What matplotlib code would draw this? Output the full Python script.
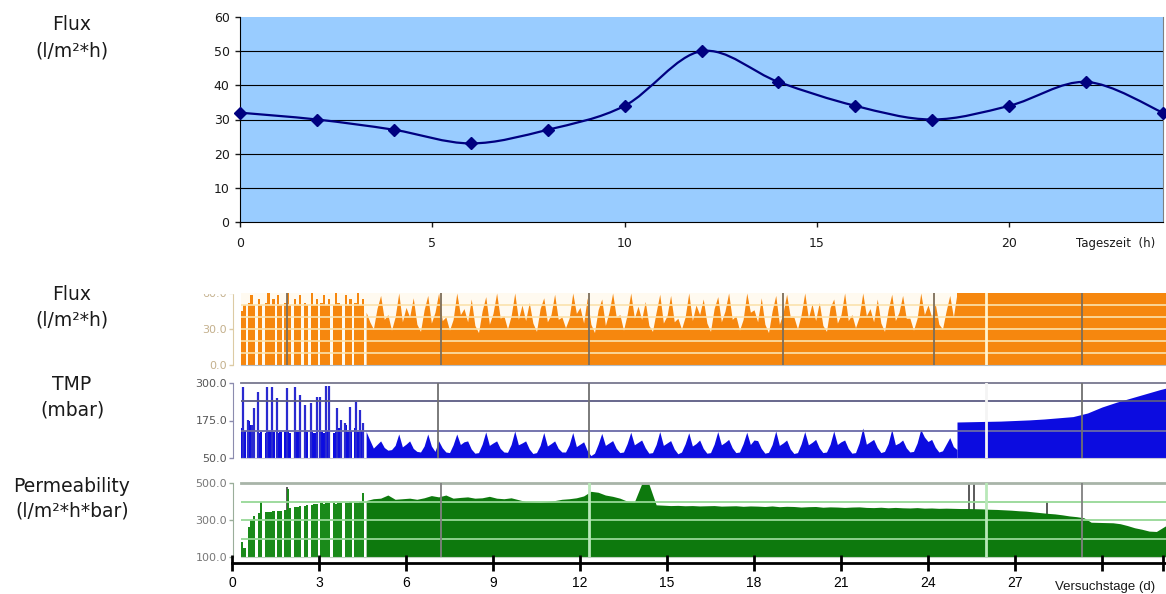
import numpy as np
import matplotlib
matplotlib.use("Agg")
import matplotlib.pyplot as plt
from matplotlib.path import Path
from matplotlib.patches import PathPatch, Rectangle

W, H = 1166, 594

# ---- top chart: daily flux profile ----
hours = [0, 2, 4, 6, 8, 10, 12, 14, 16, 18, 20, 22, 24]
flux_day = [32, 30, 27, 23, 27, 34, 50, 41, 34, 30, 34, 41, 32]

# ---- lower strips: test run over ~32 days ----
# start-up phase, 12 samples per day from day 0.3 (0 / 50 / 100 = plant stopped)
STARTUP_T0, STARTUP_DT = 0.3, 1 / 12
flux_startup = [45, 50, 0, 52, 58, 50, 0, 55, 50, 0, 52, 60, 50, 55, 0, 58, 50, 0,
                52, 60, 50, 0, 55, 50, 58, 0, 52, 50, 0, 60, 50, 55, 0, 52, 58, 50,
                55, 0, 50, 60, 52, 50, 0, 58, 50, 55, 0, 52, 60, 50, 55, 50]
tmp_startup = [150, 140, 50, 175, 160, 138, 50, 135, 138, 50, 135, 140, 136, 138, 50,
               135, 138, 50, 136, 140, 135, 50, 138, 136, 140, 50, 135, 138, 50, 136,
               135, 140, 50, 138, 135, 140, 138, 50, 135, 138, 150, 165, 50, 160, 138,
               140, 50, 150, 138, 140, 160, 138]
perm_startup = [180, 150, 100, 260, 300, 320, 100, 340, 400, 100, 345, 345, 345, 350,
                100, 350, 350, 100, 355, 470, 365, 100, 370, 370, 375, 100, 375, 380,
                100, 380, 385, 385, 100, 390, 385, 390, 390, 100, 390, 385, 390, 390,
                100, 390, 390, 395, 100, 390, 390, 395, 445, 400]
# short TMP peaks during start-up
tmp_spike_days = [0.38, 0.55, 0.69, 0.76, 0.90, 1.21, 1.38, 1.55, 1.90, 2.17, 2.34, 2.52,
                  2.72, 2.93, 3.03, 3.24, 3.34, 3.62, 3.76, 3.90, 4.07, 4.28, 4.41, 4.52]
tmp_spike_vals = [288, 177, 160, 217, 270, 287, 287, 250, 283, 287, 260, 227,
                  233, 253, 253, 290, 290, 217, 177, 167, 220, 237, 210, 167]

# regular operation with daily cycle, 8 samples per day from day 4.625
CYCLE_T0, CYCLE_DT = 4.625, 1 / 8
flux_cycle = [
    44, 36, 30, 47, 58, 38, 42, 29,
    40, 60, 36, 48, 40, 56, 34, 28,
    46, 58, 35, 44, 60, 37, 40, 29,
    38, 60, 42, 47, 36, 55, 33, 27,
    45, 57, 34, 43, 60, 39, 41, 30,
    41, 60, 38, 50, 37, 52, 35, 28,
    47, 56, 36, 42, 59, 38, 40, 31,
    39, 60, 43, 48, 35, 56, 34, 27,
    46, 55, 33, 44, 60, 40, 42, 29,
    42, 60, 39, 49, 38, 53, 33, 28,
    44, 59, 35, 41, 58, 36, 39, 30,
    40, 60, 37, 50, 42, 55, 35, 28,
    47, 57, 36, 45, 60, 38, 41, 29,
    38, 60, 44, 46, 36, 56, 34, 27,
    45, 58, 34, 43, 59, 40, 40, 30,
    42, 60, 39, 51, 37, 52, 33, 28,
    48, 55, 35, 42, 60, 37, 42, 31,
    40, 60, 41, 47, 36, 55, 35, 28,
    46, 59, 37, 44, 58, 39, 39, 29,
    39, 60, 42, 50, 40, 51, 34, 30,
    45, 58, 40, 60]
tmp_cycle = [
    138, 110, 83, 95, 107, 85, 76, 78,
    92, 130, 87, 96, 107, 82, 72, 70,
    90, 130, 90, 72, 107, 84, 70, 68,
    94, 130, 95, 104, 107, 80, 66, 68,
    96, 137, 92, 100, 107, 82, 70, 69,
    95, 140, 94, 100, 107, 80, 65, 68,
    92, 135, 90, 98, 107, 82, 70, 70,
    94, 135, 88, 96, 104, 75, 58, 66,
    96, 132, 92, 100, 108, 82, 68, 70,
    98, 136, 94, 102, 110, 84, 66, 68,
    95, 138, 92, 100, 108, 80, 64, 70,
    97, 134, 90, 98, 110, 82, 66, 68,
    96, 138, 94, 102, 112, 84, 68, 70,
    98, 136, 95, 110, 108, 82, 66, 69,
    95, 140, 92, 100, 110, 80, 65, 68,
    97, 138, 94, 102, 112, 84, 68, 70,
    96, 140, 95, 104, 110, 82, 66, 68,
    100, 150, 96, 104, 112, 85, 68, 72,
    98, 145, 94, 100, 110, 84, 70, 72,
    100, 145, 120, 105, 112, 86, 70, 74,
    96, 118, 88, 78]

# continuous operation from day 25, 2 samples per day
LATE_T0, LATE_DT = 25.0, 0.5
flux_late = [60, 60, 60, 60, 60, 60, 60, 60, 60, 60, 60, 60, 60, 60, 60, 60]
tmp_late = [170, 171, 172, 173, 175, 177, 180, 184, 188, 200, 220, 236, 250, 264, 278, 290]

# permeability after start-up, 4 samples per day from day 4.625
PERM_T0, PERM_DT = 4.625, 0.25
perm_main = [
    405, 415, 418, 435, 412, 415, 418, 412, 420, 432, 425, 435, 418, 422, 425, 418,
    420, 428, 418, 415, 420, 410, 400, 398, 396, 400, 405, 412, 415, 420, 430, 455,
    450, 435, 428, 418, 402, 398, 495, 495, 382, 380, 378, 379, 377, 378, 376, 377,
    378, 375, 376, 377, 374, 376, 375, 373, 376, 372, 374, 373, 370, 372, 373, 369,
    371, 370, 368, 370, 371, 368, 367, 369, 366, 368, 366, 365, 367, 364, 365, 363,
    364, 363, 362, 362, 361, 360, 358, 357, 355, 353, 350, 348, 344, 340, 336, 333,
    328, 322, 318, 312, 288, 287, 286, 285, 280, 270, 258, 250, 240, 238, 262, 285]
perm_spike_days = [1.90, 25.4, 25.6, 28.1]
perm_spike_vals = [480, 500, 500, 400]

# event marks of the recorder (dark) and stops (light)
flux_marks_dark = [1.9, 7.2, 12.3, 19.0, 24.2, 29.3]
tmp_marks_dark = [7.1, 12.3, 29.3]
perm_marks_dark = [7.2, 29.3]
marks_light = [26.0]
perm_marks_light = [12.3, 26.0]

day_ticks = [0, 3, 6, 9, 12, 15, 18, 21, 24, 27, 30, 32.1]
day_labels = ['0', '3', '6', '9', '12', '15', '18', '21', '24', '27', '', '']

DAY0_PX, PX_PER_DAY = 232, 29.0
STRIP_X0, STRIP_X1 = 241, 1166


def px_axes(fig, x0, y0, x1, y1):
    return fig.add_axes([x0 / W, 1 - y1 / H, (x1 - x0) / W, (y1 - y0) / H])


def smooth_path(x, y):
    """Bezier path through the points, like a spreadsheet smoothed line."""
    pts = np.column_stack([x, y]).astype(float)
    p = np.vstack([pts[0], pts, pts[-1]])
    verts = [pts[0]]
    codes = [Path.MOVETO]
    for i in range(1, len(p) - 2):
        c1 = p[i] + (p[i + 1] - p[i - 1]) / 6
        c2 = p[i + 1] - (p[i + 2] - p[i]) / 6
        verts += [c1, c2, p[i + 1]]
        codes += [Path.CURVE4] * 3
    return Path(verts, codes)


def times(t0, dt, vals):
    return t0 + dt * np.arange(len(vals))


def strip(y0, y1, ylim, bg, spine_col, label_col, ticks):
    a = px_axes(fig, STRIP_X0, y0, STRIP_X1, y1)
    a.set_xlim((STRIP_X0 - DAY0_PX) / PX_PER_DAY, (STRIP_X1 - DAY0_PX) / PX_PER_DAY)
    a.set_ylim(*ylim)
    a.set_facecolor(bg)
    a.set_xticks([])
    a.set_yticks(ticks)
    a.set_yticklabels(['%.1f' % v for v in ticks])
    a.tick_params(axis='y', length=3, width=1, pad=1, labelsize=8,
                  color=spine_col, labelcolor=label_col)
    for lab in a.get_yticklabels():
        lab.set_family('Liberation Sans')
    a.spines['left'].set_position(('outward', 6))
    a.spines['left'].set_color(spine_col)
    a.spines['right'].set_visible(False)
    return a


fig = plt.figure(figsize=(W / 100, H / 100), dpi=100)

# ---------------- top chart ----------------
ax = px_axes(fig, 240, 17, 1163, 222)
ax.set_facecolor('#99ccff')
ax.set_xlim(0, 24)
ax.set_ylim(0, 60)
for yv in range(10, 60, 10):
    ax.axhline(yv, color='black', lw=0.8, zorder=1)
ax.add_patch(PathPatch(smooth_path(hours, flux_day), fc='none', ec='#000080',
                       lw=1.6, zorder=3, clip_on=False))
ax.plot(hours, flux_day, 'D', color='#000080', ms=6.5, zorder=4, clip_on=False)
ax.set_xticks([0, 5, 10, 15, 20])
ax.set_yticks(range(0, 61, 10))
ax.tick_params(direction='out', length=3.5, width=1, labelsize=9, pad=7,
               colors='#1a1a1a')
ax.tick_params(axis='y', pad=4)
ax.spines['top'].set_visible(False)
ax.spines['right'].set_color('#808080')
fig.text(1155 / W, 1 - 243 / H, 'Tageszeit  (h)', ha='right', va='center',
         fontsize=8.5, color='#1a1a1a')

# ---------------- flux strip ----------------
ORANGE = '#f6870e'
axf = strip(293, 365, (0, 60), '#fffaf0', '#dccba4', '#c4b08c', [0, 30, 60])
axf.spines['top'].set_visible(False)
axf.spines['bottom'].set_color('#b4bcc4')
axf.fill_between(times(STARTUP_T0, STARTUP_DT, flux_startup), 0, flux_startup,
                 step='post', color=ORANGE, lw=0, zorder=2)
axf.fill_between(times(CYCLE_T0, CYCLE_DT, flux_cycle), 0, flux_cycle,
                 color=ORANGE, lw=0, zorder=2)
axf.fill_between(times(LATE_T0, LATE_DT, flux_late), 0, flux_late,
                 color=ORANGE, lw=0, zorder=2)
for yv in range(10, 60, 10):
    axf.axhline(yv, color='#fbe3ad', lw=1.2, zorder=3)
for d in flux_marks_dark:
    axf.axvline(d, color='#7d6e5a', lw=1.3, zorder=4)
for d in marks_light:
    axf.axvline(d, color='#fff3cf', lw=2, zorder=4)

# ---------------- TMP strip ----------------
BLUE = '#0c0ce0'
axt = strip(383, 458, (50, 300), 'white', '#8c8cae', '#555555', [50, 175, 300])
axt.spines['top'].set_color('#77778f')
axt.spines['top'].set_linewidth(1.3)
axt.spines['bottom'].set_color('#c8c8d8')
axt.fill_between(times(STARTUP_T0, STARTUP_DT, tmp_startup), 50, tmp_startup,
                 step='post', color=BLUE, lw=0, zorder=2)
axt.vlines(tmp_spike_days, 50, tmp_spike_vals, color='#2a2ad0', lw=1.6, zorder=2)
axt.fill_between(times(CYCLE_T0, CYCLE_DT, tmp_cycle), 50, tmp_cycle,
                 color=BLUE, lw=0, zorder=2)
axt.fill_between(times(LATE_T0, LATE_DT, tmp_late), 50, tmp_late,
                 color=BLUE, lw=0, zorder=2)
axt.axhline(240, color='#5c5c84', lw=1.3, zorder=3)
axt.axhline(140, color='#6a6aa8', lw=1.3, zorder=3)
for d in tmp_marks_dark:
    axt.axvline(d, color='#707070', lw=1.3, zorder=4)
for d in marks_light:
    axt.axvline(d, color='#f4f4f4', lw=2, zorder=4)

# ---------------- permeability strip ----------------
GREEN = '#0d790d'
axp = strip(483, 557, (100, 500), 'white', '#9aae9a', '#777777', [100, 300, 500])
axp.spines['top'].set_color('#a8b4a8')
axp.spines['top'].set_linewidth(2)
axp.spines['bottom'].set_color('#c0d0c0')
axp.fill_between(times(STARTUP_T0, STARTUP_DT, perm_startup), 100, perm_startup,
                 step='post', color='#1a8a1a', lw=0, zorder=2)
axp.fill_between(times(PERM_T0, PERM_DT, perm_main), 100, perm_main,
                 color=GREEN, lw=0, zorder=2)
axp.vlines(perm_spike_days, 100, perm_spike_vals, color='#5a5a5a', lw=1.4, zorder=1)
for yv in (200, 300, 400):
    axp.axhline(yv, color='#96d896', lw=1.3, zorder=3)
for d in perm_marks_dark:
    axp.axvline(d, color='#808080', lw=1.3, zorder=4)
for d in perm_marks_light:
    axp.axvline(d, color='#b8e8b8', lw=2, zorder=4)

# ---------------- day axis ----------------
axd = px_axes(fig, DAY0_PX, 540, 1166, 563)
axd.set_xlim(0, (1166 - DAY0_PX) / PX_PER_DAY)
axd.set_ylim(0, 1)
axd.patch.set_visible(False)
for s in ('top', 'left', 'right'):
    axd.spines[s].set_visible(False)
axd.spines['bottom'].set_linewidth(2)
axd.set_yticks([])
axd.set_xticks(day_ticks)
axd.set_xticklabels(day_labels, family='Liberation Sans')
axd.tick_params(axis='x', direction='inout', length=11, width=2, labelsize=10, pad=4)
fig.text(1105 / W, 1 - 587 / H, 'Versuchstage (d)', ha='center', va='center',
         fontsize=9.5, family='Liberation Sans', color='#1a1a1a')

# cut-off top label of the flux strip
fig.add_artist(Rectangle((180 / W, 1 - 293 / H), 58 / W, 24 / H,
                         transform=fig.transFigure, color='white', zorder=5))

# ---------------- left captions ----------------
captions = [('Flux', 25), ('(l/m²*h)', 51),
            ('Flux', 295), ('(l/m²*h)', 320),
            ('TMP', 385), ('(mbar)', 410),
            ('Permeability', 486), ('(l/m²*h*bar)', 511)]
for txt, ypx in captions:
    fig.text(72 / W, 1 - ypx / H, txt, ha='center', va='center', fontsize=13.5,
             color='#1a1a1a')

fig.savefig('out.png', dpi=100)
